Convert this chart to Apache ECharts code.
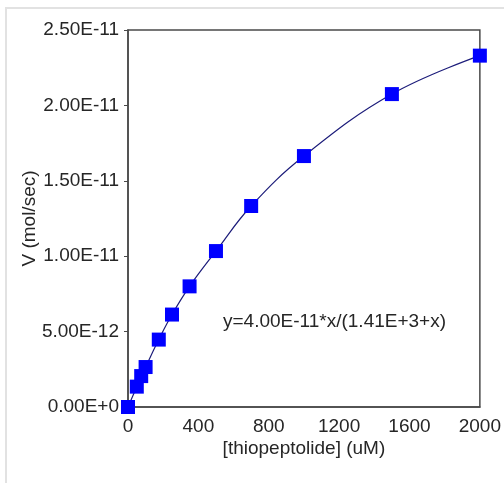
<!DOCTYPE html>
<html lang="en">
<head>
  <meta charset="UTF-8">
  <title>thiopeptolide kinetics</title>
  <script src="https://cdn.jsdelivr.net/npm/echarts@6/dist/echarts.min.js"></script>
  <style>
    body {
      margin: 0;
      padding: 0;
      background: #fff;
    }
    /* light frame round the picture, top and left only */
    .frame {
      position: absolute;
      left: 5px;
      top: 7px;
      width: 499px;
      height: 476px;
      border-top: 2px solid #e2e2e2;
      border-left: 2px solid #e2e2e2;
      box-sizing: border-box;
    }
    #chart {
      position: absolute;
      left: 0;
      top: 0;
      width: 504px;
      height: 483px;
    }
  </style>
</head>
<body>
  <div class="frame"></div>
  <div id="chart"></div>

  <script>
    // substrate concentration (uM) and measured rate (mol/sec)
    var conc = [0, 50, 75, 100, 175, 250, 350, 500, 700, 1000, 1500, 2000];
    var rate = [0, 1.35e-12, 2.05e-12, 2.65e-12, 4.47e-12, 6.13e-12, 8.0e-12,
                1.034e-11, 1.333e-11, 1.664e-11, 2.075e-11, 2.33e-11];

    var xTicks = [0, 400, 800, 1200, 1600, 2000];
    var yTickLabels = ['0.00E+0', '5.00E-12', '1.00E-11', '1.50E-11', '2.00E-11', '2.50E-11'];
    var yStep = 5e-12;

    var fitText = 'y=4.00E-11*x/(1.41E+3+x)';

    var points = conc.map(function (c, i) { return [c, rate[i]]; });

    var font = 'Liberation Sans, Arial, sans-serif';
    var chart = echarts.init(document.getElementById('chart'));

    var option = {
      animation: false,
      grid: {
        left: 128,
        top: 30,
        width: 352,
        height: 377,
        show: true,
        borderColor: '#4a4a4a',
        borderWidth: 1.5,
        backgroundColor: 'transparent'
      },
      xAxis: {
        type: 'value',
        min: xTicks[0],
        max: xTicks[xTicks.length - 1],
        interval: 400,
        name: '[thiopeptolide] (uM)',
        nameLocation: 'middle',
        nameGap: 32,
        nameMoveOverlap: false,
        nameTextStyle: { fontFamily: font, fontSize: 19, color: '#262626' },
        axisLine: { lineStyle: { color: '#4a4a4a', width: 1.5 } },
        axisTick: { show: false },
        splitLine: { show: false },
        axisLabel: {
          fontFamily: font,
          fontSize: 19,
          color: '#262626',
          margin: 10,
          formatter: function (v) { return String(v); }
        }
      },
      yAxis: {
        type: 'value',
        min: 0,
        max: yStep * (yTickLabels.length - 1),
        interval: yStep,
        name: 'V (mol/sec)',
        nameLocation: 'middle',
        nameGap: 89,
        nameMoveOverlap: false,
        nameTextStyle: { fontFamily: font, fontSize: 19, color: '#262626' },
        axisLine: { show: true, lineStyle: { color: '#4a4a4a', width: 1.5 } },
        axisTick: { show: true, length: 4, lineStyle: { color: '#4a4a4a' } },
        splitLine: { show: false },
        axisLabel: {
          fontFamily: font,
          fontSize: 19,
          color: '#262626',
          margin: 9,
          formatter: function (v) {
            return yTickLabels[Math.round(v / yStep)];
          }
        }
      },
      series: [
        {
          // fitted curve, drawn smooth through the measurements
          type: 'line',
          data: points,
          smooth: 0.4,
          showSymbol: false,
          lineStyle: { color: '#1c1c7a', width: 1.2 },
          z: 2
        },
        {
          type: 'scatter',
          data: points,
          symbol: 'rect',
          symbolSize: 14,
          itemStyle: { color: '#0000ff', opacity: 1 },
          z: 3
        }
      ],
      graphic: [
        {
          type: 'text',
          left: 223,
          top: 312,
          style: {
            text: fitText,
            font: '19px ' + font,
            fill: '#262626'
          }
        }
      ]
    };

    chart.setOption(option);
  </script>
</body>
</html>
